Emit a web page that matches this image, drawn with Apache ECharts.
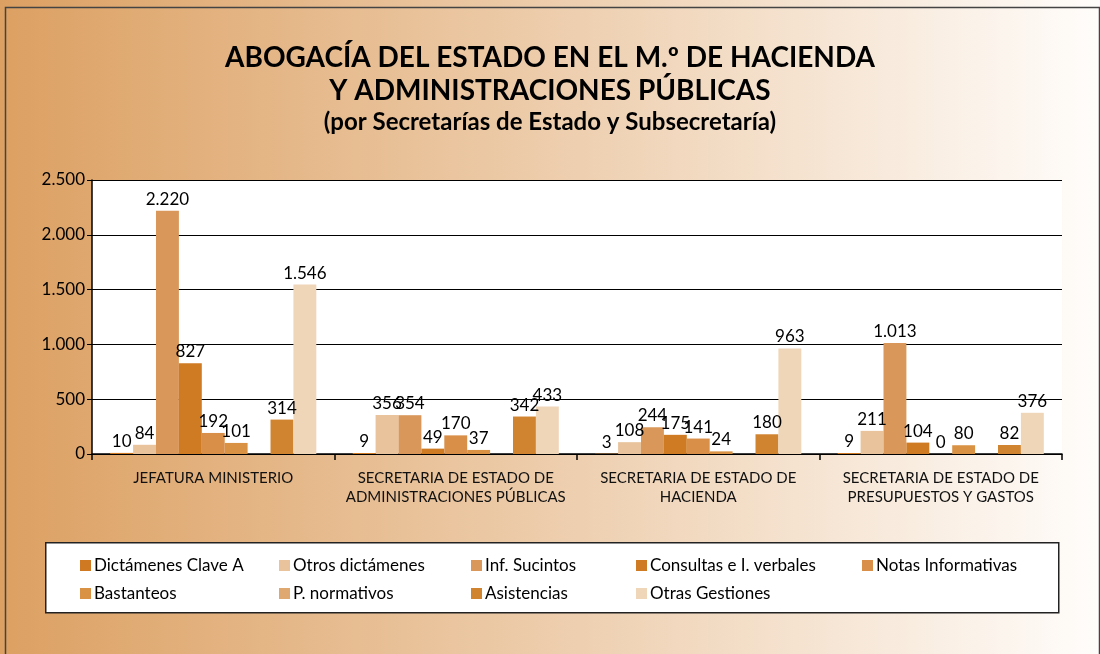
<!DOCTYPE html>
<html>
<head>
<meta charset="utf-8">
<script src="https://cdn.jsdelivr.net/npm/echarts@6/dist/echarts.min.js"></script>
<style>
html, body { margin: 0; padding: 0; }
#main { width: 1100px; height: 654px; }
</style>
</head>
<body>
<div id="main"></div>
<script>
// categorías (secretarías)
var categories = [
    'JEFATURA MINISTERIO',
    'SECRETARIA DE ESTADO DE\nADMINISTRACIONES PÚBLICAS',
    'SECRETARIA DE ESTADO DE\nHACIENDA',
    'SECRETARIA DE ESTADO DE\nPRESUPUESTOS Y GASTOS'
];
var seriesNames = [
    'Dictámenes Clave A', 'Otros dictámenes', 'Inf. Sucintos',
    'Consultas e I. verbales', 'Notas Informativas', 'Bastanteos',
    'P. normativos', 'Asistencias', 'Otras Gestiones'
];
// valores por serie
var dictamenesClaveA = [10, 9, 3, 9];
var otrosDictamenes = [84, 356, 108, 211];
var infSucintos = [2220, 354, 244, 1013];
var consultasVerbales = [827, 49, 175, 104];
var notasInformativas = [192, 170, 141, 0];
var bastanteos = [101, 37, 24, 80];
var pNormativos = [null, null, null, null];
var asistencias = [314, 342, 180, 82];
var otrasGestiones = [1546, 433, 963, 376];
var yTicks = [0, 500, 1000, 1500, 2000, 2500];

var values = [dictamenesClaveA, otrosDictamenes, infSucintos, consultasVerbales,
    notasInformativas, bastanteos, pNormativos, asistencias, otrasGestiones];
var colors = ['#CF7A22', '#E9C39C', '#D9975A', '#CF7B24', '#D98F48',
    '#D99244', '#DEA870', '#D08430', '#F0D6B9'];

var fmt = function (v) {
    return String(v).replace(/\B(?=(\d{3})+(?!\d))/g, '.');
};

var font = 'Lato, "DejaVu Sans", sans-serif';
var chart = echarts.init(document.getElementById('main'));

var series = [];
for (var i = 0; i < seriesNames.length; i++) {
    series.push({
        name: seriesNames[i],
        type: 'bar',
        data: values[i],
        barGap: 0,
        barCategoryGap: '15%',
        itemStyle: { color: colors[i] },
        label: {
            show: true,
            position: 'top',
            distance: 3,
            color: '#000',
            fontSize: 17,
            fontFamily: font,
            formatter: function (p) { return fmt(p.value); }
        }
    });
}

// leyenda en 5 columnas
var legendCols = [
    { left: 80, items: [seriesNames[0], seriesNames[5]] },
    { left: 279, items: [seriesNames[1], seriesNames[6]] },
    { left: 471, items: [seriesNames[2], seriesNames[7]] },
    { left: 636, items: [seriesNames[3], seriesNames[8]] },
    { left: 862, items: [seriesNames[4]] }
];
var legends = legendCols.map(function (c) {
    return {
        orient: 'vertical',
        left: c.left,
        top: 557,
        padding: 0,
        itemWidth: 11,
        itemHeight: 11,
        itemGap: 11,
        icon: 'rect',
        selectedMode: false,
        data: c.items,
        textStyle: { color: '#000', fontSize: 17, fontFamily: font, padding: [0, 0, 0, -2] }
    };
});

var option = {
    backgroundColor: new echarts.graphic.LinearGradient(0, 0, 1, 0, [
        { offset: 0, color: '#DCA062' },
        { offset: 0.5, color: '#EDCDAC' },
        { offset: 1, color: '#FFFDFB' }
    ]),
    animation: false,
    title: {
        text: 'ABOGACÍA DEL ESTADO EN EL M.º DE HACIENDA\nY ADMINISTRACIONES PÚBLICAS',
        subtext: '(por Secretarías de Estado y Subsecretaría)',
        left: 'center',
        top: 36,
        itemGap: 3,
        textStyle: { color: '#000', fontSize: 28, fontWeight: 'bold', lineHeight: 33, fontFamily: font },
        subtextStyle: { color: '#000', fontSize: 24, fontWeight: 'bold', fontFamily: font }
    },
    legend: legends,
    grid: {
        left: 92,
        right: 38,
        top: 180,
        bottom: 200,
        show: true,
        backgroundColor: '#fff',
        borderWidth: 0
    },
    xAxis: {
        type: 'category',
        data: categories,
        axisLine: { lineStyle: { color: '#000', width: 1.5 } },
        axisTick: { show: true, length: 6, lineStyle: { color: '#000', width: 1.5 } },
        axisLabel: { color: '#111', fontSize: 15, fontFamily: font, lineHeight: 19, margin: 15, interval: 0 }
    },
    yAxis: {
        type: 'value',
        min: yTicks[0],
        max: yTicks[yTicks.length - 1],
        interval: 500,
        axisLine: { show: true, lineStyle: { color: '#000', width: 1.5 } },
        axisTick: { show: true, length: 5, lineStyle: { color: '#000' } },
        splitLine: { lineStyle: { color: '#000', width: 1.2 } },
        axisLabel: { color: '#000', fontSize: 17, fontFamily: font, margin: 7, formatter: fmt }
    },
    graphic: [
        {
            type: 'rect',
            left: 45, top: 542,
            shape: { width: 1013, height: 70 },
            style: { fill: '#fff', stroke: '#222', lineWidth: 1.5 },
            z: -1
        },
        {
            type: 'rect',
            left: 3, top: 5,
            shape: { width: 1094, height: 660 },
            style: { fill: null, stroke: '#444', lineWidth: 1.5 },
            z: -1
        }
    ],
    series: series
};
chart.setOption(option);
</script>
</body>
</html>
